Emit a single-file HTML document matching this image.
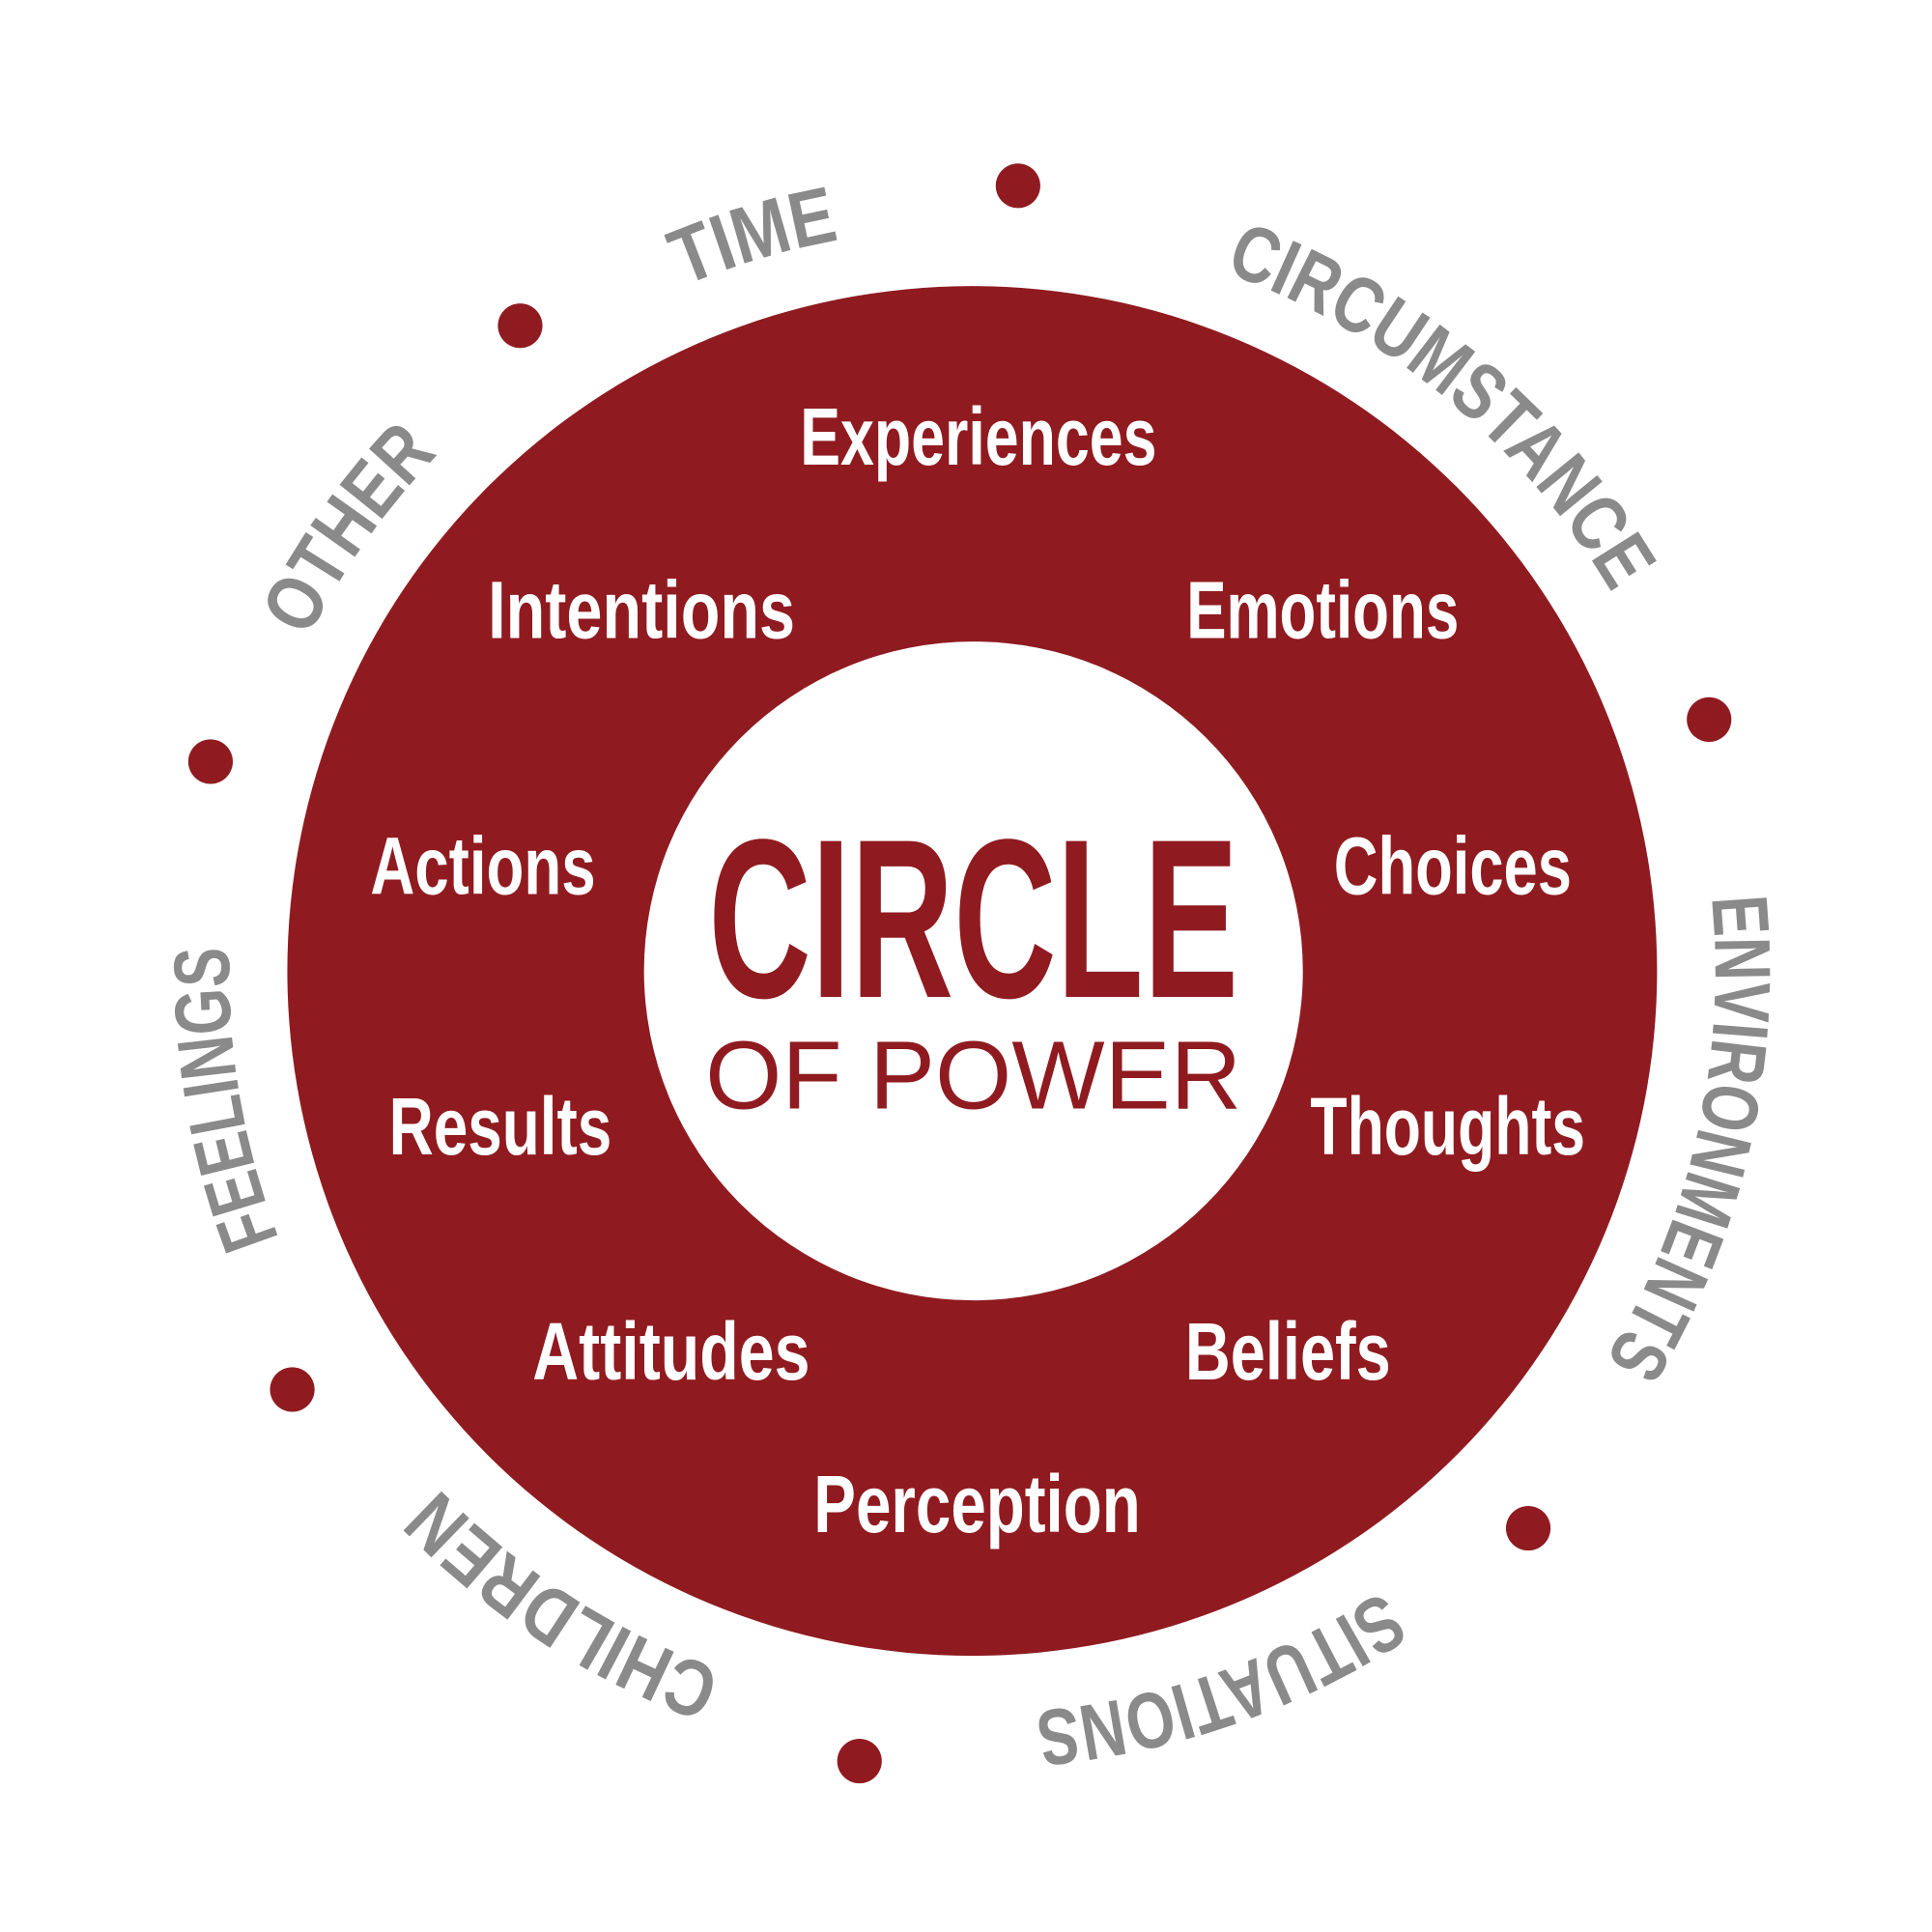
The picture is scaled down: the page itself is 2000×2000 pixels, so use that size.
<!DOCTYPE html>
<html><head><style>html,body{margin:0;padding:0;background:#fff}svg{display:block}</style></head>
<body>
<svg width="2000" height="2000" viewBox="0 0 1560 1560" xmlns="http://www.w3.org/2000/svg">
<rect width="1560" height="1560" fill="#fff"/>
<circle cx="785" cy="784" r="553" fill="#8f1b20"/>
<circle cx="786" cy="784" r="266" fill="#fff"/>
<g fill="#8f1b20">
<circle cx="822" cy="150" r="18"/><circle cx="420" cy="263" r="18"/><circle cx="170" cy="615" r="18"/>
<circle cx="236" cy="1122" r="18"/><circle cx="694" cy="1422" r="18"/><circle cx="1234" cy="1234" r="18"/>
<circle cx="1380" cy="581" r="18"/>
</g>
<defs><path id="ring" d="M785,184 A600,600 0 1 1 785,1384 A600,600 0 1 1 785,184"/></defs>
<g font-family="Liberation Sans, sans-serif" font-weight="bold" font-size="64" fill="#8a8a8a" text-anchor="middle">
<text><textPath href="#ring" startOffset="3596" textLength="132" lengthAdjust="spacingAndGlyphs">TIME</textPath></text>
<text><textPath href="#ring" startOffset="415" textLength="415" lengthAdjust="spacingAndGlyphs">CIRCUMSTANCE</textPath></text>
<text><textPath href="#ring" startOffset="1078" textLength="390" lengthAdjust="spacingAndGlyphs">ENVIRONMENTS</textPath></text>
<text><textPath href="#ring" startOffset="1684" textLength="300" lengthAdjust="spacingAndGlyphs">SITUATIONS</textPath></text>
<text><textPath href="#ring" startOffset="2228" textLength="275" lengthAdjust="spacingAndGlyphs">CHILDREN</textPath></text>
<text><textPath href="#ring" startOffset="2726" textLength="240" lengthAdjust="spacingAndGlyphs">FEELINGS</textPath></text>
<text><textPath href="#ring" startOffset="3197" textLength="183" lengthAdjust="spacingAndGlyphs">OTHER</textPath></text>
</g>
<g font-family="Liberation Sans, sans-serif" font-weight="bold" font-size="66" fill="#fff" text-anchor="middle">
<text x="790" y="375" textLength="288" lengthAdjust="spacingAndGlyphs">Experiences</text>
<text x="518" y="515" textLength="248" lengthAdjust="spacingAndGlyphs">Intentions</text>
<text x="1068" y="515" textLength="220" lengthAdjust="spacingAndGlyphs">Emotions</text>
<text x="390" y="722" textLength="182" lengthAdjust="spacingAndGlyphs">Actions</text>
<text x="1173" y="722" textLength="192" lengthAdjust="spacingAndGlyphs">Choices</text>
<text x="404" y="932" textLength="180" lengthAdjust="spacingAndGlyphs">Results</text>
<text x="1169" y="932" textLength="222" lengthAdjust="spacingAndGlyphs">Thoughts</text>
<text x="542" y="1114" textLength="224" lengthAdjust="spacingAndGlyphs">Attitudes</text>
<text x="1040" y="1114" textLength="166" lengthAdjust="spacingAndGlyphs">Beliefs</text>
<text x="789" y="1237" textLength="264" lengthAdjust="spacingAndGlyphs">Perception</text>
</g>
<text x="786" y="805" font-family="Liberation Sans, sans-serif" font-weight="bold" font-size="183" fill="#8f1b20" text-anchor="middle" textLength="428" lengthAdjust="spacingAndGlyphs">CIRCLE</text>
<text x="786" y="895" font-family="Liberation Sans, sans-serif" font-size="78" fill="#8f1b20" text-anchor="middle" textLength="433" lengthAdjust="spacingAndGlyphs">OF POWER</text>
</svg>
</body></html>
